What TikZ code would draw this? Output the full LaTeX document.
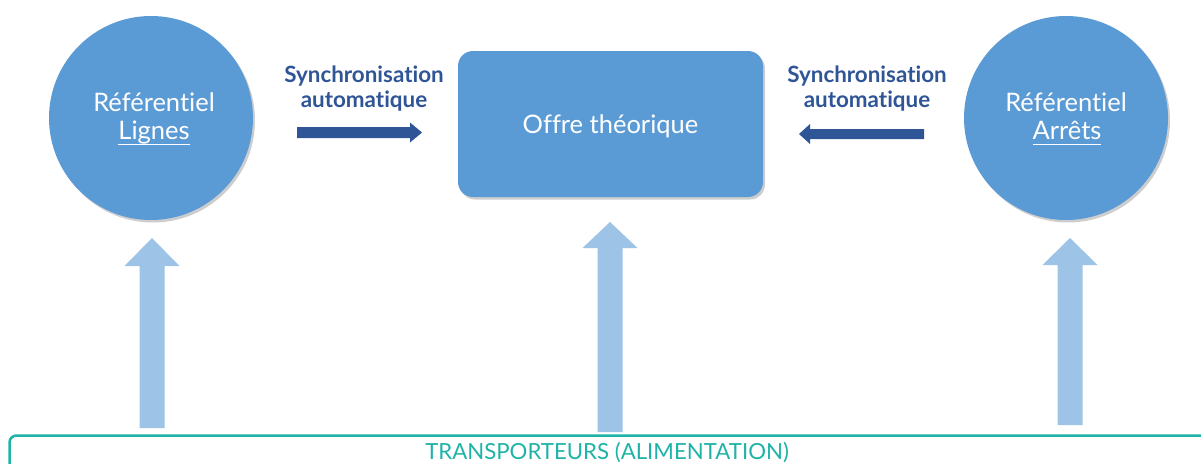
\documentclass[tikz,border=0pt]{standalone}
\usepackage{fontspec}
\setmainfont{Lato}[Ligatures={NoCommon}]
\usetikzlibrary{shadows}

\definecolor{nodeblue}{HTML}{5B9BD5}
\definecolor{feedblue}{HTML}{9DC3E6}
\definecolor{syncblue}{HTML}{2F5597}
\definecolor{barteal}{HTML}{1FB3A7}

% upward feed arrow: centre x, tip y, head base y, bottom y
\newcommand\feedarrow[4]{%
  \fill[feedblue] (#1-12.5,#4) -- (#1-12.5,#3) -- (#1-27.5,#3) -- (#1,#2)
    -- (#1+27.5,#3) -- (#1+12.5,#3) -- (#1+12.5,#4) -- cycle;}

% underlined word with a rule set a fixed distance below the baseline
\newcommand\lineunder[1]{\setbox0\hbox{#1}\rlap{\rule[-6pt]{\wd0}{1.3pt}}\box0}

\tikzset{
  softshadow/.style={drop shadow={shadow xshift=2pt, shadow yshift=-2.5pt,
      opacity=0.28, fill=black!70}},
  refcircle/.style={circle, fill=nodeblue, minimum size=204pt, inner sep=0pt, softshadow},
  offerbox/.style={rectangle, rounded corners=15pt, fill=nodeblue,
      minimum width=305pt, minimum height=146pt, inner sep=0pt, softshadow},
  whitetext/.style={text=white, font=\fontsize{25.5}{30}\selectfont, anchor=base, inner sep=0pt},
  synctext/.style={text=syncblue, font=\fontsize{22.4}{26}\selectfont\bfseries, anchor=base, inner sep=0pt},
  bartext/.style={text=barteal, font=\fontsize{22.2}{26}\selectfont, anchor=base, inner sep=0pt},
}

\begin{document}
\begin{tikzpicture}[x=1pt, y=-1pt]
  \useasboundingbox (0,0) rectangle (1201,463);
  \clip (0,0) rectangle (1201,463);

  % main blocks
  \node[refcircle] (lignes) at (151,118) {};
  \node[refcircle] (arrets) at (1066,118) {};
  \node[offerbox] (offre) at (610.5,124) {};

  \node[whitetext] (lignesA) at (154,111) {Référentiel};
  \node[whitetext] (lignesB) at (154,139) {\lineunder{Lignes}};
  \node[whitetext] (arretsA) at (1066,111) {Référentiel};
  \node[whitetext] (arretsB) at (1067,139) {\lineunder{Arrêts}};
  \node[whitetext] (offreT) at (610.5,133) {Offre théorique};

  % synchronisation arrows and labels
  \node[synctext] (syncL1) at (364,82) {Synchronisation};
  \node[synctext] (syncL2) at (364,107) {automatique};
  \node[synctext] (syncR1) at (867,82) {Synchronisation};
  \node[synctext] (syncR2) at (867,107) {automatique};

  \fill[syncblue] (297,127) -- (410,127) -- (410,122.5) -- (422,132.5)
    -- (410,142.5) -- (410,138) -- (297,138) -- cycle;
  \fill[syncblue] (924,129) -- (810,129) -- (810,124) -- (799,134)
    -- (810,144) -- (810,139) -- (924,139) -- cycle;

  % feed arrows from the carriers bar
  \feedarrow{152}{238}{266}{428}
  \feedarrow{610}{222}{248}{432}
  \feedarrow{1070}{238}{265}{425}

  % carriers bar
  \draw[barteal, line width=2.5pt, rounded corners=7pt]
    (9.5,480) -- (9.5,435.5) -- (1220,435.5);
  \node[bartext] (carriers) at (607,459) {TRANSPORTEURS (ALIMENTATION)};
\end{tikzpicture}
\end{document}
